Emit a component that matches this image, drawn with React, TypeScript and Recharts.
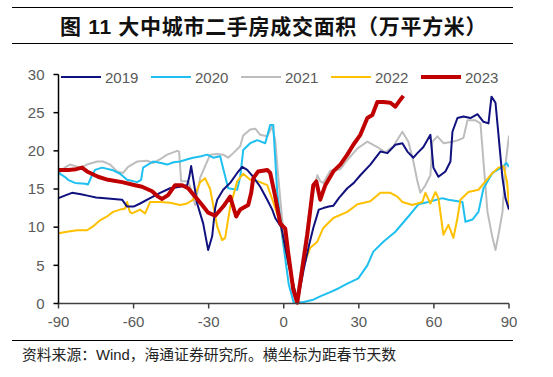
import { LineChart, Line, XAxis, YAxis, Legend } from "recharts";

const xTicks = [-90, -60, -30, 0, 30, 60, 90];
const yTicks = [0, 5, 10, 15, 20, 25, 30];

const days2019 = [-90, -87, -84.6, -81, -78, -75, -71.4, -68, -64.6, -62.6, -60, -57.4, -53.4, -49.4, -45.4, -41.4, -38.6, -37.8, -37, -36, -34.6, -32.2, -30.2, -28.6, -27.4, -26.6, -24.2, -21.4, -18.6, -16.6, -14.6, -12.2, -9.4, -6.6, -4.6, -3.4, -1, 2, 5.5, 8, 10, 11.8, 14, 15.8, 18, 19.8, 22, 25.4, 28, 30.6, 34.6, 38.6, 41.4, 44.6, 47.4, 49.4, 51.8, 53.4, 55.8, 58.6, 59.8, 61.8, 64.6, 66.6, 67.4, 69.4, 71.8, 74.6, 77.4, 79.8, 81.8, 83, 84.6, 85.8, 87.4, 88.6, 90];
const vals2019 = [13.8, 14.2, 14.5, 14.3, 14.1, 13.9, 13.8, 13.7, 13.6, 12.7, 12.7, 13.1, 13.8, 14.5, 15.1, 15.3, 15.5, 16.5, 18.0, 16.0, 13.1, 10.5, 7.0, 8.8, 12.5, 13.6, 14.9, 15.8, 17.1, 17.9, 17.5, 16.6, 15.3, 13.6, 12.3, 11.2, 10.0, 5.0, 0.2, 4.5, 7.5, 9.9, 12.3, 12.5, 12.7, 12.8, 13.8, 15.1, 15.8, 16.8, 18.2, 19.9, 19.7, 20.8, 21.0, 19.9, 19.1, 19.7, 20.5, 22.1, 17.8, 16.6, 17.3, 18.6, 22.5, 24.3, 24.5, 24.3, 24.8, 23.8, 23.6, 27.1, 26.3, 22.1, 16.4, 13.8, 12.3];

const days2020 = [-90, -87.5, -86.2, -83.4, -79.4, -78.2, -76.6, -75.4, -72.6, -68.6, -65.4, -62.6, -58.6, -57, -56.2, -52.2, -49, -46.6, -44, -41.4, -38.5, -36.2, -33, -30.6, -28.2, -25.4, -24.2, -22.2, -18.6, -17.4, -16.2, -13.4, -10.6, -7.4, -5.4, -4.2, -2.6, -0.6, 2, 4, 8, 11.8, 15, 18.6, 22, 25.4, 29.8, 33.4, 35.8, 39.8, 44.6, 49.8, 53.8, 57.8, 63.4, 65.8, 71.4, 72.6, 75.4, 77.8, 79.8, 83.4, 87.4, 89, 90];
const vals2020 = [17.1, 16.6, 16.2, 15.8, 15.7, 15.6, 16.8, 17.5, 17.8, 17.5, 17.0, 16.2, 15.9, 16.2, 17.8, 18.6, 18.4, 18.2, 18.5, 18.6, 18.9, 19.1, 19.3, 19.5, 19.1, 19.3, 17.7, 15.1, 14.9, 16.6, 20.1, 21.0, 21.4, 21.0, 23.4, 23.4, 14.5, 8.8, 2.5, 0.1, 0.2, 0.5, 1.0, 1.5, 2.0, 2.6, 3.3, 5.0, 6.8, 8.1, 9.4, 11.4, 13.0, 13.3, 13.8, 13.6, 13.3, 10.7, 11.0, 12.0, 15.1, 17.1, 17.9, 18.4, 17.9];

const days2021 = [-90, -87.5, -85.4, -81.4, -78.6, -74.6, -72.2, -69.4, -66.6, -64.2, -62.2, -58.6, -54.6, -52.2, -49.4, -46.6, -42.6, -41.8, -41, -38.2, -37.4, -36.2, -35.4, -33.4, -29.4, -26.6, -24.2, -22.2, -20.2, -17.4, -16.2, -13.4, -11.4, -9.4, -6.6, -4.6, -3.4, -2.2, -0.6, 2, 5, 8, 10, 12, 13.4, 14.6, 15.8, 18.6, 22.6, 25.4, 29.4, 33.4, 37.4, 40.6, 43.8, 47.4, 49.8, 51.8, 53.4, 54.6, 56.6, 58.6, 59.4, 61.4, 63.8, 67.4, 69.8, 71.8, 73.4, 76.6, 78.6, 79.8, 81.4, 83.4, 84.6, 85.8, 87.4, 88.6, 90];
const vals2021 = [17.0, 17.8, 18.2, 17.8, 18.2, 18.6, 18.6, 18.2, 17.3, 17.1, 17.9, 18.6, 18.7, 18.4, 18.9, 19.5, 20.0, 19.9, 16.0, 16.0, 15.3, 14.0, 12.9, 16.5, 19.5, 19.6, 19.5, 19.1, 19.7, 20.6, 22.0, 22.8, 22.9, 22.1, 21.9, 23.2, 21.4, 16.6, 10.9, 5.0, 0.3, 7.0, 11.5, 15.0, 16.8, 16.0, 15.8, 17.4, 17.6, 18.8, 20.3, 21.2, 20.5, 19.8, 20.6, 22.5, 21.2, 18.6, 16.0, 14.5, 15.5, 16.8, 21.2, 21.9, 21.0, 21.2, 21.4, 21.7, 24.0, 24.0, 23.6, 18.6, 12.0, 8.6, 7.0, 9.0, 12.0, 18.2, 22.0];

const days2022 = [-90, -86.6, -82.6, -78.6, -76.2, -73.4, -70.6, -68.2, -65.4, -63.5, -62.6, -61.5, -60.6, -57.4, -55.4, -53.4, -49.4, -45.4, -41.4, -38.6, -36.2, -33.4, -31.4, -29.4, -26.6, -24.6, -23.4, -21.4, -18.6, -16.2, -13.4, -10.2, -6.6, -4.2, -1.4, 2, 5.5, 8, 10.6, 13.4, 15.8, 19.8, 25.4, 29.4, 34.6, 38.6, 42.6, 45.4, 47.4, 51.4, 55.4, 56.6, 58.6, 60.6, 61.8, 63.8, 65.8, 67.8, 69.4, 70.6, 73.8, 77.8, 80.6, 83.4, 85.8, 87.8, 89.2, 90];
const vals2022 = [9.2, 9.4, 9.6, 9.6, 10.1, 10.9, 11.4, 12.0, 12.3, 12.4, 13.3, 12.0, 11.8, 12.3, 11.8, 13.3, 13.3, 13.2, 12.9, 13.1, 13.6, 15.9, 16.4, 15.0, 10.1, 8.3, 8.6, 12.7, 16.0, 17.0, 16.2, 16.0, 15.5, 13.3, 10.5, 5.0, 0.3, 5.0, 7.3, 8.1, 9.9, 11.2, 12.0, 13.0, 13.4, 14.5, 14.5, 14.0, 13.3, 12.9, 13.3, 14.5, 13.1, 14.6, 13.8, 9.0, 10.3, 8.6, 11.2, 13.6, 14.6, 14.9, 16.0, 17.1, 17.8, 18.0, 16.0, 12.8];

const days2023 = [-90, -86, -83, -80.6, -78.6, -74.2, -70.2, -64.6, -59.4, -56.6, -52.6, -50.2, -48.6, -46.2, -43.4, -40.6, -38.2, -35.4, -32.6, -30.2, -27.4, -24.2, -21.4, -20.5, -19, -17.4, -14.2, -13, -12.2, -10.2, -6.6, -5.4, -3.4, -1.4, 0.6, 1.8, 3.8, 5.4, 9.4, 11.8, 13, 14.6, 16.6, 19.8, 22.6, 25.4, 27.8, 30.6, 33.4, 35.4, 37.4, 39.8, 42.6, 44.6, 46.6, 47.8];
const vals2023 = [17.5, 17.5, 17.6, 17.8, 17.3, 16.6, 16.2, 15.9, 15.5, 15.3, 14.7, 14.0, 13.7, 14.2, 15.5, 15.5, 15.1, 14.0, 12.9, 11.9, 11.5, 12.7, 14.0, 13.0, 11.4, 12.3, 12.9, 14.5, 16.4, 17.3, 17.5, 17.1, 14.0, 10.5, 9.8, 6.6, 1.8, 0.1, 9.0, 15.5, 16.0, 13.6, 15.5, 17.3, 18.2, 19.5, 20.8, 22.1, 24.3, 24.7, 26.4, 26.4, 26.3, 25.8, 26.7, 27.2];

const zip = (days: number[], vals: number[]) => days.map((day, i) => ({ day, v: vals[i] }));

const series = [
  { name: "2019", color: "#10107E", width: 2, data: zip(days2019, vals2019) },
  { name: "2020", color: "#1FC0F0", width: 2, data: zip(days2020, vals2020) },
  { name: "2021", color: "#BDBDBD", width: 2, data: zip(days2021, vals2021) },
  { name: "2022", color: "#FFC000", width: 2, data: zip(days2022, vals2022) },
  { name: "2023", color: "#C00000", width: 4, data: zip(days2023, vals2023) },
];

// draw order: grey under, red on top
const drawOrder = ["2021", "2020", "2022", "2019", "2023"];

const axisFont = { fontSize: 15, fontFamily: '"Liberation Sans", Arial, sans-serif', fill: "#595959" };

function LegendBox() {
  return (
    <div style={{ position: "relative", width: 553, height: 20 }}>
      {series.map((s, i) => (
        <div
          key={s.name}
          style={{
            position: "absolute",
            left: 61 + i * 90,
            top: 0,
            height: 20,
            display: "flex",
            alignItems: "center",
          }}
        >
          <div style={{ width: 40, height: s.width, background: s.color }} />
          <span
            style={{
              marginLeft: 4,
              fontSize: 15,
              fontFamily: '"Liberation Sans", Arial, sans-serif',
              color: "#595959",
            }}
          >
            {s.name}
          </span>
        </div>
      ))}
    </div>
  );
}

export default function App() {
  return (
    <div style={{ position: "absolute", left: 0, top: 0, width: 553, height: 377, background: "#fff" }}>
      <div
        style={{
          position: "absolute",
          left: 12,
          top: 7,
          width: 501,
          height: 35,
          borderTop: "1.5px solid #000",
          borderBottom: "1.5px solid #000",
        }}
      />
      <div
        style={{
          position: "absolute",
          left: 60,
          top: 13,
          fontSize: 21,
          fontWeight: 700,
          letterSpacing: 0.7,
          lineHeight: "28px",
          whiteSpace: "nowrap",
          fontFamily: '"Liberation Sans", "Noto Sans CJK SC", sans-serif',
          color: "#111",
        }}
      >
        图 11 大中城市二手房成交面积（万平方米）
      </div>

      <div style={{ position: "absolute", left: 0, top: 0 }}>
        <LineChart width={553} height={377} margin={{ top: 74.5, right: 44, bottom: 43.5, left: 8.5 }}>
          <XAxis
            type="number"
            dataKey="day"
            domain={[-90, 90]}
            ticks={xTicks}
            allowDataOverflow
            height={30}
            tickSize={5}
            tickMargin={8}
            axisLine={{ stroke: "#404040", strokeWidth: 1.5 }}
            tickLine={{ stroke: "#404040", strokeWidth: 1.5 }}
            tick={axisFont}
          />
          <YAxis
            type="number"
            domain={[0, 30]}
            ticks={yTicks}
            width={50}
            tickSize={5}
            tickMargin={9}
            axisLine={{ stroke: "#000", strokeWidth: 1.5 }}
            tickLine={{ stroke: "#000", strokeWidth: 1.5 }}
            tick={axisFont}
          />
          <Legend
            layout="horizontal"
            verticalAlign="middle"
            align="center"
            content={() => <LegendBox />}
            wrapperStyle={{ position: "absolute", left: 0, top: 67, width: 553 }}
          />
          {drawOrder.map((name) => {
            const s = series.find((x) => x.name === name)!;
            return (
              <Line
                key={s.name}
                data={s.data}
                dataKey="v"
                name={s.name}
                type="linear"
                stroke={s.color}
                strokeWidth={s.width}
                dot={false}
                activeDot={false}
                isAnimationActive={false}
                strokeLinejoin="round"
              />
            );
          })}
        </LineChart>
      </div>

      <div
        style={{
          position: "absolute",
          left: 12,
          top: 340,
          width: 501,
          borderTop: "1.5px solid #000",
        }}
      />
      <div
        style={{
          position: "absolute",
          left: 22,
          top: 346,
          fontSize: 14.8,
          lineHeight: "18px",
          whiteSpace: "nowrap",
          fontFamily: '"Liberation Sans", "Noto Sans CJK SC", sans-serif',
          color: "#222",
        }}
      >
        资料来源：Wind，海通证券研究所。横坐标为距春节天数
      </div>
    </div>
  );
}
